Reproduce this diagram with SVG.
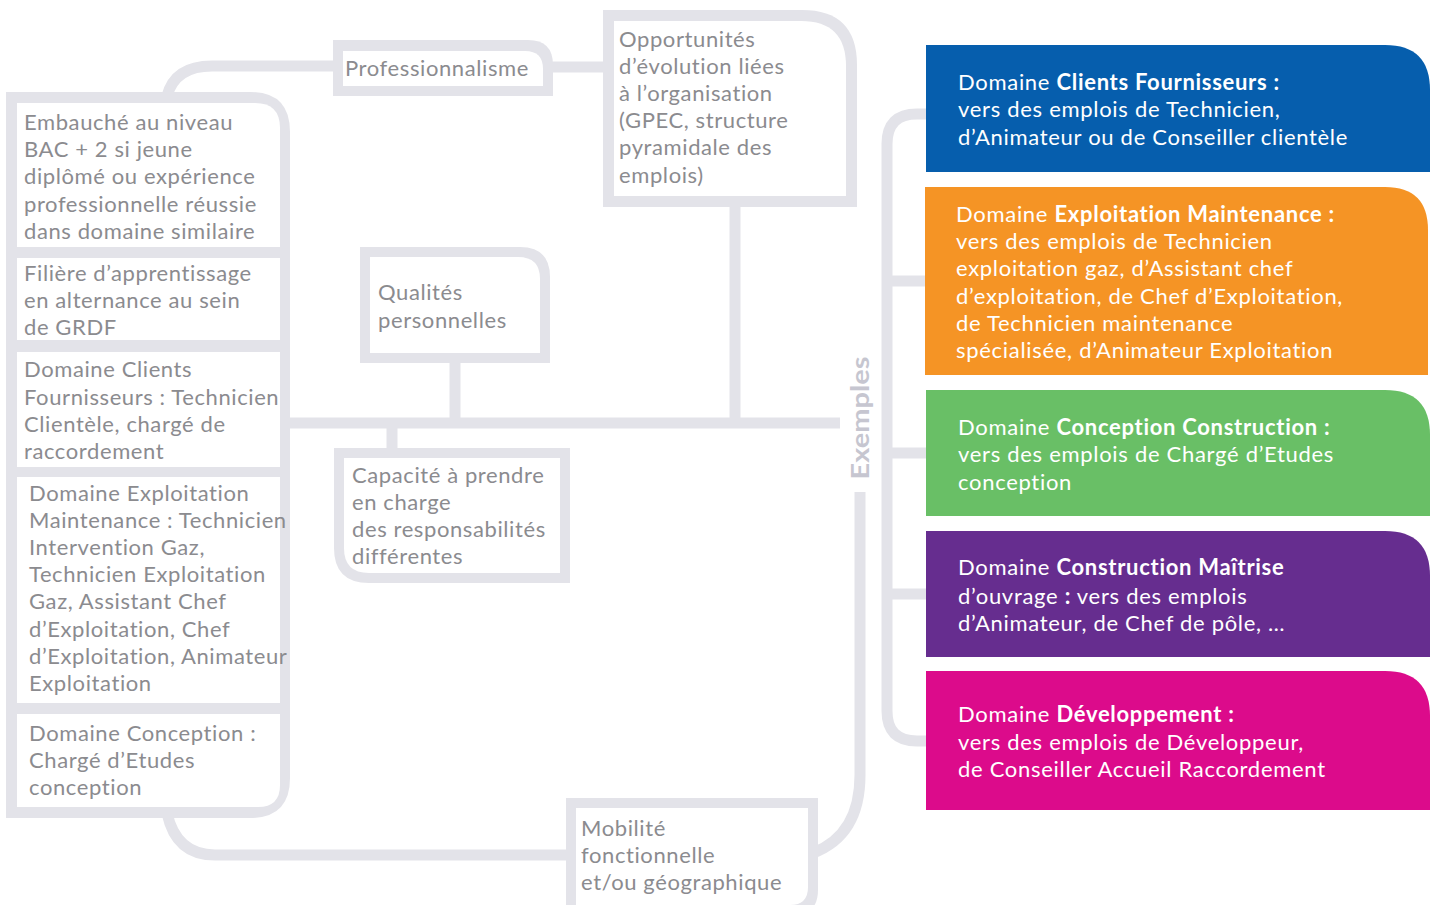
<svg xmlns="http://www.w3.org/2000/svg" width="1438" height="905" viewBox="0 0 1438 905">
<defs>
<style>
.frame{fill:#e3e3e9}
.cell{fill:#ffffff}
.conn{fill:none;stroke:#e3e3e9;stroke-width:11}
.gt{font-family:Lato,"Open Sans","DejaVu Sans",sans-serif;font-size:22px;letter-spacing:0.6px;fill:#8b8b8f}
.wt{font-family:Lato,"Open Sans","DejaVu Sans",sans-serif;font-size:22px;letter-spacing:0.7px;fill:#ffffff}
.b{font-weight:bold}
.ex{font-family:Lato,"Open Sans","DejaVu Sans",sans-serif;font-size:25px;font-weight:bold;fill:#c6c6d0}
</style>
</defs>
<rect width="1438" height="905" fill="#ffffff"/>

<g id="connectors">
<path class="conn" d="M167 96 Q175 66 212 66 L338 66"/>
<path class="conn" d="M548 67 L608 67"/>
<path class="conn" d="M735 202 L735 423"/>
<path class="conn" d="M285 423 L840 423"/>
<path class="conn" d="M455 358 L455 423"/>
<path class="conn" d="M392 423 L392 453"/>
<path class="conn" d="M167 813 Q176 855 215 855 L571 855"/>
<path class="conn" d="M860 492 L860 775 Q860 835 813 853"/>
<path class="conn" d="M928 114 L917 114 Q887 114 887 144 L887 711 Q887 741 917 741 L928 741"/>
<path class="conn" d="M887 281 L926 281"/>
<path class="conn" d="M887 453 L926 453"/>
<path class="conn" d="M887 594 L926 594"/>
</g>

<g id="node-left">
<path class="frame" d="M6 92 L250 92 Q290 92 290 132 L290 778 Q290 818 250 818 L6 818 Z"/>
<path class="cell" d="M17 103 L255 103 Q280 103 280 128 L280 247 L17 247 Z"/>
<rect class="cell" x="17" y="258" width="263" height="82"/>
<rect class="cell" x="17" y="352" width="263" height="115"/>
<rect class="cell" x="17" y="477" width="263" height="226"/>
<path class="cell" d="M17 714 L280 714 L280 785 Q280 807 258 807 L17 807 Z"/>
<text class="gt" x="24" y="130">Embauché au niveau</text>
<text class="gt" x="24" y="157">BAC + 2 si jeune</text>
<text class="gt" x="24" y="184">diplômé ou expérience</text>
<text class="gt" x="24" y="212">professionnelle réussie</text>
<text class="gt" x="24" y="239">dans domaine similaire</text>
<text class="gt" x="24" y="281">Filière d’apprentissage</text>
<text class="gt" x="24" y="308">en alternance au sein</text>
<text class="gt" x="24" y="335">de GRDF</text>
<text class="gt" x="24" y="377">Domaine Clients</text>
<text class="gt" x="24" y="405">Fournisseurs : Technicien</text>
<text class="gt" x="24" y="432">Clientèle, chargé de</text>
<text class="gt" x="24" y="459">raccordement</text>
<text class="gt" x="29" y="501">Domaine Exploitation</text>
<text class="gt" x="29" y="528">Maintenance : Technicien</text>
<text class="gt" x="29" y="555">Intervention Gaz,</text>
<text class="gt" x="29" y="582">Technicien Exploitation</text>
<text class="gt" x="29" y="609">Gaz, Assistant Chef</text>
<text class="gt" x="29" y="637">d’Exploitation, Chef</text>
<text class="gt" x="29" y="664">d’Exploitation, Animateur</text>
<text class="gt" x="29" y="691">Exploitation</text>
<text class="gt" x="29" y="741">Domaine Conception :</text>
<text class="gt" x="29" y="768">Chargé d’Etudes</text>
<text class="gt" x="29" y="795">conception</text>
</g>

<g id="node-professionnalisme">
<path class="frame" d="M333 40 L528 40 Q553 40 553 65 L553 96 L333 96 Z"/>
<path class="cell" d="M343 51 L525 51 Q543 51 543 69 L543 86 L343 86 Z"/>
<text class="gt" x="345" y="76">Professionnalisme</text>
</g>

<g id="node-opportunites">
<path class="frame" d="M603 10 L802 10 Q857 10 857 65 L857 207 L603 207 Z"/>
<path class="cell" d="M614 21 L801 21 Q846 21 846 66 L846 196 L614 196 Z"/>
<text class="gt" x="619" y="47">Opportunités</text>
<text class="gt" x="619" y="74">d’évolution liées</text>
<text class="gt" x="619" y="101">à l’organisation</text>
<text class="gt" x="619" y="128">(GPEC, structure</text>
<text class="gt" x="619" y="155">pyramidale des</text>
<text class="gt" x="619" y="183">emplois)</text>
</g>

<g id="node-qualites">
<path class="frame" d="M360 247 L520 247 Q550 247 550 277 L550 363 L360 363 Z"/>
<path class="cell" d="M370 257 L518 257 Q540 257 540 279 L540 353 L370 353 Z"/>
<text class="gt" x="378" y="300">Qualités</text>
<text class="gt" x="378" y="328">personnelles</text>
</g>

<g id="node-capacite">
<path class="frame" d="M334 448 L570 448 L570 583 L369 583 Q334 583 334 548 Z"/>
<path class="cell" d="M344 458 L560 458 L560 573 L369 573 Q344 573 344 548 Z"/>
<text class="gt" x="352" y="483">Capacité à prendre</text>
<text class="gt" x="352" y="510">en charge</text>
<text class="gt" x="352" y="537">des responsabilités</text>
<text class="gt" x="352" y="564">différentes</text>
</g>

<g id="node-mobilite">
<path class="frame" d="M566 798 L818 798 L818 890 Q818 915 793 915 L566 915 Z"/>
<path class="cell" d="M576 808 L808 808 L808 887 Q808 905 790 905 L576 905 Z"/>
<text class="gt" x="581" y="836">Mobilité</text>
<text class="gt" x="581" y="863">fonctionnelle</text>
<text class="gt" x="581" y="890">et/ou géographique</text>
</g>

<g id="label-exemples">
<text class="ex" transform="translate(869 418) rotate(-90)" text-anchor="middle" textLength="123" lengthAdjust="spacingAndGlyphs">Exemples</text>
</g>

<g id="node-clients">
<path d="M926 45 L1385 45 Q1430 45 1430 90 L1430 172 L926 172 Z" fill="#065ead"/>
<text class="wt" x="958" y="90">Domaine <tspan class="b">Clients Fournisseurs :</tspan></text>
<text class="wt" x="958" y="117">vers des emplois de Technicien,</text>
<text class="wt" x="958" y="145">d’Animateur ou de Conseiller clientèle</text>
</g>

<g id="node-exploitation">
<path d="M925 187 L1385 187 Q1428 187 1428 230 L1428 375 L925 375 Z" fill="#f59425"/>
<text class="wt" x="956" y="222">Domaine <tspan class="b">Exploitation Maintenance :</tspan></text>
<text class="wt" x="956" y="249">vers des emplois de Technicien</text>
<text class="wt" x="956" y="276">exploitation gaz, d’Assistant chef</text>
<text class="wt" x="956" y="304">d’exploitation, de Chef d’Exploitation,</text>
<text class="wt" x="956" y="331">de Technicien maintenance</text>
<text class="wt" x="956" y="358">spécialisée, d’Animateur Exploitation</text>
</g>

<g id="node-conception">
<path d="M926 390 L1385 390 Q1430 390 1430 435 L1430 516 L926 516 Z" fill="#69bf66"/>
<text class="wt" x="958" y="435">Domaine <tspan class="b">Conception Construction :</tspan></text>
<text class="wt" x="958" y="462">vers des emplois de Chargé d’Etudes</text>
<text class="wt" x="958" y="490">conception</text>
</g>

<g id="node-construction">
<path d="M926 531 L1385 531 Q1430 531 1430 576 L1430 657 L926 657 Z" fill="#662d8f"/>
<text class="wt" x="958" y="575">Domaine <tspan class="b">Construction Maîtrise</tspan></text>
<text class="wt" x="958" y="604">d’ouvrage <tspan class="b">:</tspan> vers des emplois</text>
<text class="wt" x="958" y="631">d’Animateur, de Chef de pôle, …</text>
</g>

<g id="node-developpement">
<path d="M926 671 L1385 671 Q1430 671 1430 716 L1430 810 L926 810 Z" fill="#dc0b8b"/>
<text class="wt" x="958" y="722">Domaine <tspan class="b">Développement :</tspan></text>
<text class="wt" x="958" y="750">vers des emplois de Développeur,</text>
<text class="wt" x="958" y="777">de Conseiller Accueil Raccordement</text>
</g>
</svg>
